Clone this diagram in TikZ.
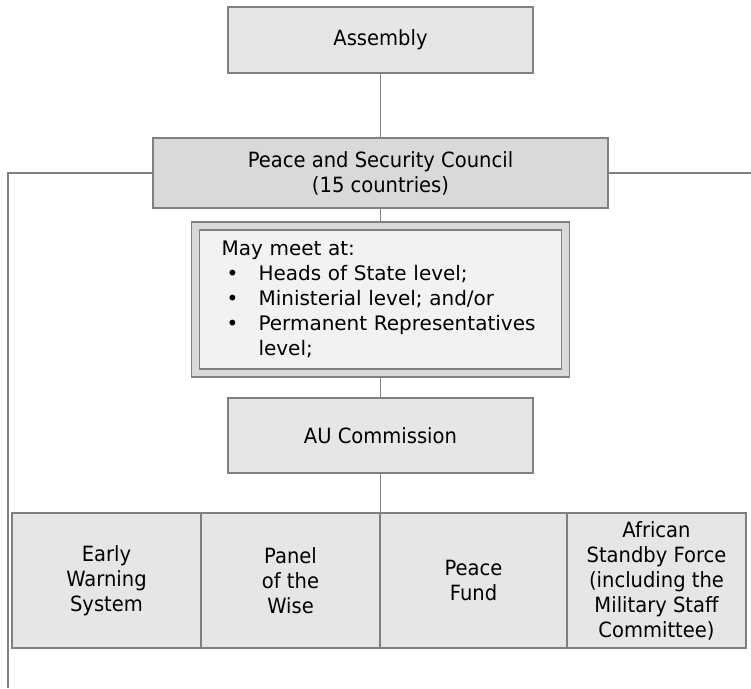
\documentclass[tikz,border=0pt]{standalone}
\usepackage{fontspec}
\setmainfont[FakeStretch=0.93]{DejaVu Sans}
\newfontfamily\listfont{DejaVu Sans}
\usetikzlibrary{positioning}
\definecolor{edge}{HTML}{808080}
\definecolor{boxfill}{HTML}{E6E6E6}
\definecolor{darkfill}{HTML}{D9D9D9}
\definecolor{paperfill}{HTML}{F2F2F2}

\begin{document}
\begin{tikzpicture}[x=0.5pt, y=-0.5pt,
  block/.style={rectangle, draw=edge, fill=boxfill, line width=0.7pt, minimum width=152.5pt,
    align=center, font=\fontsize{10.5}{12.5}\selectfont},
  unit/.style={block, minimum height=67.5pt, inner sep=2pt},
  link/.style={draw=edge, line width=0.7pt},
  node distance=66.5pt]
  \useasboundingbox (0,0) rectangle (751,689);
  \node[block, minimum height=33pt] (asm) at (380.5,40) {Assembly};
  \node[block, fill=darkfill, minimum width=227.5pt, minimum height=35pt, below of=asm] (psc)
    {Peace and Security Council\\(15 countries)};
  \node[rectangle, draw=edge, fill=darkfill, line width=0.7pt, minimum width=189pt, minimum height=77.5pt,
    below of=psc, node distance=63.25pt] (meetframe) {};
  \node[rectangle, draw=edge, fill=paperfill, line width=0.7pt, minimum width=181pt, minimum height=69.5pt,
    inner sep=0pt, text width=159pt, align=left, font=\listfont\fontsize{10}{12.5}\selectfont,
    at=(meetframe)] (meet)
    {May meet at:\\
     \hspace*{2.5pt}\makebox[16pt][l]{\textbullet}Heads of State level;\\
     \hspace*{2.5pt}\makebox[16pt][l]{\textbullet}Ministerial level; and/or\\
     \hspace*{2.5pt}\makebox[16pt][l]{\textbullet}Permanent Representatives\\
     \hspace*{18.5pt}level;};
  \node[block, minimum height=37.5pt, below of=meetframe, node distance=68pt] (au) {AU Commission};

  \node[unit, minimum width=93.5pt, below of=au, node distance=72.5pt, xshift=46.5pt] (fund) {Peace\\Fund};
  \node[unit, minimum width=89.5pt, left of=fund, node distance=91.5pt] (wise) {Panel\\of the\\Wise};
  \node[unit, minimum width=94.5pt, left of=wise, node distance=92pt] (early) {Early\\Warning\\System};
  \node[unit, minimum width=89.5pt, right of=fund, node distance=91.5pt] (asf)
    {African\\Standby Force\\(including the\\Military Staff\\Committee)};

  \coordinate (lfoot) at (8,688);
  \coordinate (rtip) at (751,173);
  \draw[link] (asm) -- (psc);
  \draw[link] (psc) -- (meetframe);
  \draw[link] (meetframe) -- (au);
  \draw[link] (au) -- (au |- fund.north);
  \draw[link] (psc.west) -| (lfoot);
  \draw[link] (psc.east) -- (rtip);
\end{tikzpicture}
\end{document}
